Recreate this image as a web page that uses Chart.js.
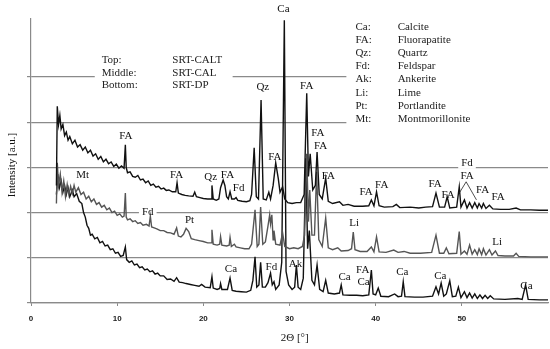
<!DOCTYPE html>
<html>
<head>
<meta charset="utf-8">
<script src="https://cdn.jsdelivr.net/npm/chart.js@4/dist/chart.umd.min.js"></script>
<style>
  html, body { margin: 0; padding: 0; background: #fff; }
  #wrap { width: 550px; height: 349px; }
</style>
</head>
<body>
<div id="wrap"><canvas id="xrdChart"></canvas></div>
<script>
// 2theta / intensity pairs (offset stacked patterns)
const caltPattern = [
  [2.95, 2.6], [3.05, 4.35], [3.2, 3.95], [3.35, 4.15], [3.5, 3.85], [3.7, 3.95], [3.9, 3.7], [4.1, 3.78],
  [4.3, 3.6], [4.5, 3.68], [4.8, 3.52], [5.1, 3.6], [5.4, 3.45], [5.7, 3.5], [6.0, 3.38], [6.3, 3.45],
  [6.6, 3.32], [6.9, 3.38], [7.2, 3.25], [7.5, 3.3], [7.8, 3.18], [8.1, 3.24], [8.4, 3.12], [8.7, 3.18],
  [9.0, 3.08], [9.3, 3.12], [9.6, 3.02], [9.9, 3.07], [10.2, 2.98], [10.5, 3.03], [10.8, 2.98], [10.95, 3.5],
  [11.05, 3.0], [11.2, 2.88], [11.5, 2.9], [11.8, 2.8], [12.1, 2.78], [12.4, 2.82], [12.7, 2.72], [13.0, 2.74],
  [13.3, 2.66], [13.6, 2.7], [13.9, 2.6], [14.2, 2.63], [14.5, 2.56], [14.8, 2.58], [15.1, 2.52], [15.4, 2.54],
  [15.7, 2.49], [16.0, 2.5], [16.4, 2.46], [16.8, 2.46], [16.95, 2.66], [17.1, 2.43], [17.5, 2.4], [17.9, 2.38],
  [18.3, 2.37], [18.8, 2.36], [19.0, 2.45], [19.2, 2.35], [19.6, 2.33], [20.0, 2.31], [20.5, 2.3], [20.9, 2.3],
  [21.0, 2.6], [21.15, 2.3], [21.5, 2.27], [21.8, 2.3], [22.0, 2.55], [22.3, 2.72], [22.5, 2.6], [22.7, 2.35],
  [22.9, 2.3], [23.1, 2.46], [23.3, 2.3], [23.6, 2.3], [23.8, 2.33], [24.0, 2.27], [24.5, 2.25], [25.0, 2.24],
  [25.4, 2.26], [25.6, 2.4], [25.9, 3.43], [26.15, 2.35], [26.4, 2.3], [26.7, 4.49], [26.95, 2.3], [27.3, 2.28],
  [27.6, 2.45], [27.8, 2.3], [28.1, 2.6], [28.4, 3.1], [28.7, 2.75], [28.9, 2.45], [29.2, 2.57], [29.45, 2.3],
  [29.8, 2.22], [30.3, 2.2], [30.8, 2.22], [31.3, 2.22], [31.7, 2.4], [32.0, 4.64], [32.2, 2.8], [32.4, 3.3],
  [32.7, 2.5], [33.0, 2.6], [33.2, 3.34], [33.45, 2.4], [33.8, 2.3], [34.2, 2.76], [34.5, 2.25], [35.0, 2.2],
  [35.8, 2.24], [36.2, 2.16], [36.8, 2.18], [37.5, 2.14], [38.5, 2.14], [39.2, 2.15], [39.5, 2.28], [39.8, 2.15],
  [40.1, 2.46], [40.4, 2.15], [41.0, 2.12], [42.0, 2.13], [42.4, 2.18], [42.8, 2.11], [44.0, 2.12], [45.0, 2.1],
  [45.8, 2.12], [46.6, 2.13], [47.0, 2.43], [47.4, 2.12], [48.0, 2.12], [48.3, 2.35], [48.6, 2.1], [49.4, 2.12],
  [49.7, 2.57], [49.9, 2.12], [50.3, 2.28], [50.6, 2.1], [50.9, 2.22], [51.2, 2.1], [51.5, 2.22], [51.8, 2.1],
  [52.0, 2.2], [52.3, 2.1], [52.5, 2.2], [52.8, 2.09], [53.2, 2.16], [53.6, 2.08], [54.5, 2.07], [55.5, 2.07],
  [56.3, 2.1], [56.8, 2.06], [58.0, 2.06], [59.0, 2.05], [60.0, 2.05]
];

const calPattern = [
  [2.95, 2.2], [3.05, 3.1], [3.2, 2.6], [3.4, 2.85], [3.6, 2.45], [3.8, 2.7], [4.0, 2.35], [4.2, 2.62],
  [4.4, 2.4], [4.6, 2.58], [4.8, 2.42], [5.0, 2.6], [5.2, 2.45], [5.5, 2.55], [5.8, 2.4], [6.1, 2.45],
  [6.4, 2.3], [6.7, 2.36], [7.0, 2.24], [7.3, 2.3], [7.6, 2.18], [7.9, 2.22], [8.2, 2.12], [8.5, 2.16],
  [8.8, 2.06], [9.1, 2.1], [9.4, 2.0], [9.7, 2.03], [10.0, 1.94], [10.3, 1.97], [10.6, 1.9], [10.8, 1.92],
  [10.95, 2.43], [11.05, 1.9], [11.2, 1.84], [11.5, 1.86], [11.8, 1.8], [12.1, 1.82], [12.4, 1.76], [12.7, 1.78],
  [13.0, 1.72], [13.4, 1.74], [13.7, 1.7], [13.85, 1.92], [14.0, 1.68], [14.3, 1.66], [14.6, 1.64], [15.0, 1.6],
  [15.4, 1.6], [15.8, 1.56], [16.2, 1.55], [16.6, 1.52], [16.9, 1.66], [17.1, 1.48], [17.4, 1.46], [17.7, 1.52],
  [18.0, 1.65], [18.3, 1.58], [18.6, 1.42], [19.0, 1.4], [19.5, 1.38], [20.0, 1.36], [20.5, 1.33], [20.9, 1.33],
  [21.0, 1.62], [21.15, 1.3], [21.6, 1.28], [21.9, 1.3], [22.0, 1.47], [22.15, 1.28], [22.7, 1.26], [23.0, 1.28],
  [23.1, 1.45], [23.25, 1.25], [23.6, 1.3], [23.8, 1.24], [24.3, 1.22], [24.8, 1.2], [25.3, 1.2], [25.6, 1.3],
  [26.0, 2.06], [26.25, 1.25], [26.45, 1.3], [26.65, 2.12], [26.9, 1.3], [27.2, 1.35], [27.5, 1.7], [27.7, 1.95],
  [27.8, 1.75], [27.95, 1.95], [28.1, 1.4], [28.2, 1.6], [28.4, 1.3], [28.9, 1.28], [29.2, 1.55], [29.45, 1.25],
  [30.0, 1.2], [30.5, 1.22], [31.0, 1.2], [31.5, 1.25], [31.75, 1.5], [32.0, 3.3], [32.2, 1.8], [32.35, 2.5],
  [32.6, 1.5], [32.9, 1.5], [33.15, 2.9], [33.4, 1.4], [33.8, 1.25], [34.2, 1.88], [34.5, 1.22], [35.0, 1.18],
  [35.6, 1.22], [36.0, 1.15], [36.8, 1.16], [37.2, 1.2], [37.4, 1.57], [37.6, 1.18], [38.2, 1.14], [39.0, 1.14],
  [39.5, 1.24], [39.8, 1.13], [40.1, 1.46], [40.4, 1.13], [41.2, 1.12], [42.1, 1.17], [42.6, 1.12], [43.3, 1.14],
  [44.0, 1.1], [45.2, 1.1], [46.5, 1.12], [47.0, 1.5], [47.4, 1.1], [47.9, 1.1], [48.2, 1.22], [48.5, 1.09],
  [49.4, 1.1], [49.7, 1.58], [49.9, 1.08], [50.3, 1.15], [50.6, 1.08], [50.9, 1.28], [51.2, 1.08], [51.5, 1.18],
  [51.8, 1.07], [52.0, 1.2], [52.3, 1.07], [52.5, 1.2], [52.8, 1.06], [53.2, 1.18], [53.5, 1.06], [53.9, 1.15],
  [54.2, 1.05], [55.0, 1.04], [56.0, 1.04], [56.3, 1.1], [56.6, 1.03], [58.0, 1.02], [60.0, 1.02]
];

const dpPattern = [
  [2.95, 2.4], [3.1, 2.85], [3.3, 2.55], [3.5, 2.7], [3.7, 2.45], [3.9, 2.6], [4.1, 2.4], [4.3, 2.55],
  [4.5, 2.35], [4.8, 2.5], [5.0, 2.35], [5.3, 2.42], [5.6, 2.25], [5.9, 2.2], [6.1, 2.0], [6.3, 1.9],
  [6.5, 1.72], [6.7, 1.65], [6.9, 1.5], [7.1, 1.52], [7.4, 1.42], [7.7, 1.45], [8.0, 1.33], [8.3, 1.36],
  [8.6, 1.26], [8.9, 1.28], [9.2, 1.18], [9.5, 1.2], [9.8, 1.1], [10.1, 1.12], [10.4, 1.03], [10.7, 1.05],
  [10.95, 1.24], [11.1, 0.96], [11.4, 0.9], [11.7, 0.93], [12.0, 0.84], [12.3, 0.86], [12.6, 0.78], [12.9, 0.8],
  [13.2, 0.73], [13.5, 0.75], [13.8, 0.69], [14.1, 0.71], [14.4, 0.64], [14.7, 0.66], [15.0, 0.6], [15.4, 0.6],
  [15.8, 0.52], [16.2, 0.53], [16.6, 0.48], [16.9, 0.56], [17.2, 0.46], [17.6, 0.45], [18.0, 0.43], [18.5, 0.41],
  [19.0, 0.39], [19.5, 0.37], [19.8, 0.41], [20.2, 0.35], [20.8, 0.34], [21.0, 0.58], [21.15, 0.33], [21.6, 0.3],
  [21.9, 0.32], [22.0, 0.43], [22.15, 0.3], [22.8, 0.3], [23.1, 0.55], [23.35, 0.28], [23.8, 0.26], [24.4, 0.25],
  [25.0, 0.24], [25.5, 0.28], [25.75, 0.5], [26.0, 1.02], [26.2, 0.35], [26.45, 0.4], [26.65, 0.9], [26.85, 0.35],
  [27.2, 0.35], [27.5, 0.45], [27.8, 0.66], [28.0, 0.4], [28.2, 0.47], [28.4, 0.3], [28.8, 0.4], [29.1, 0.9],
  [29.4, 6.25], [29.6, 0.7], [29.9, 0.4], [30.3, 0.3], [30.6, 0.35], [30.8, 0.84], [31.0, 0.35], [31.3, 0.3],
  [31.6, 0.55], [31.9, 3.2], [32.1, 1.2], [32.3, 1.6], [32.6, 0.5], [32.9, 0.4], [33.2, 0.84], [33.5, 0.3],
  [33.9, 0.25], [34.2, 0.5], [34.5, 0.22], [35.2, 0.2], [35.8, 0.22], [36.0, 0.4], [36.2, 0.18], [37.0, 0.17],
  [37.8, 0.17], [38.5, 0.16], [39.2, 0.18], [39.5, 0.73], [39.7, 0.2], [40.0, 0.18], [40.3, 0.33], [40.6, 0.15],
  [41.5, 0.14], [42.2, 0.2], [42.6, 0.14], [43.0, 0.15], [43.2, 0.47], [43.4, 0.14], [44.5, 0.13], [45.5, 0.13],
  [46.6, 0.15], [47.0, 0.36], [47.3, 0.2], [47.6, 0.44], [47.9, 0.15], [48.2, 0.2], [48.6, 0.49], [48.9, 0.14],
  [49.3, 0.15], [49.6, 0.35], [49.9, 0.12], [50.3, 0.25], [50.6, 0.12], [50.9, 0.22], [51.2, 0.11], [51.5, 0.2],
  [51.8, 0.1], [52.1, 0.18], [52.4, 0.1], [52.7, 0.17], [53.0, 0.1], [53.3, 0.16], [53.7, 0.09], [55.0, 0.08],
  [56.5, 0.1], [57.0, 0.08], [57.4, 0.4], [57.7, 0.08], [59.0, 0.07], [60.0, 0.07]
];

// phase labels: text, 2theta, intensity, white background?
const peakLabels = [
  ['Ca', 29.3, 6.5], ['Qz', 26.9, 4.78], ['FA', 32.0, 4.8], ['FA', 33.3, 3.76], ['FA', 33.6, 3.48],
  ['FA', 34.5, 2.81], ['FA', 11.0, 3.69], ['FA', 16.9, 2.83], ['Qz', 20.85, 2.79], ['FA', 22.8, 2.83],
  ['Fd', 24.1, 2.54], ['FA', 28.3, 3.23], ['Mt', 6.0, 2.83], ['Fd', 13.55, 2.01, true], ['Pt', 18.4, 1.84],
  ['Ca', 23.2, 0.75], ['Fd', 27.9, 0.8], ['Ak', 30.7, 0.86], ['Li', 37.5, 1.77], ['FA', 38.9, 2.46],
  ['FA', 40.7, 2.61], ['FA', 46.9, 2.63], ['FA', 48.4, 2.39], ['FA', 50.6, 2.81], ['FA', 52.4, 2.5],
  ['FA', 54.2, 2.35], ['Fd', 50.6, 3.1, true], ['Li', 54.1, 1.35], ['FA', 38.5, 0.73], ['Ca', 38.6, 0.46],
  ['Ca', 43.1, 0.69], ['Ca', 47.5, 0.6], ['Ca', 57.5, 0.38], ['Ca', 36.4, 0.58]
];
// leader lines from the grouped FA label to its two peaks
const leaderLines = [
  [50.5, 2.68, 49.7, 2.43],
  [50.5, 2.68, 51.7, 2.28]
];

const phaseCodes = ['Ca:', 'FA:', 'Qz:', 'Fd:', 'Ak:', 'Li:', 'Pt:', 'Mt:'];
const phaseNames = ['Calcite', 'Fluorapatite', 'Quartz', 'Feldspar', 'Ankerite', 'Lime', 'Portlandite', 'Montmorillonite'];
const samplePos = ['Top:', 'Middle:', 'Bottom:'];
const sampleNames = ['SRT-CALT', 'SRT-CAL', 'SRT-DP'];

const xTicks = [0, 10, 20, 30, 40, 50];

const serif = "'Liberation Serif', 'Times New Roman', serif";
const gridGray = '#8a8a8a';

function toPoints(pairs) {
  return pairs.map(p => ({ x: p[0], y: p[1] }));
}

const annotate = {
  id: 'annotate',
  beforeDatasetsDraw(chart) {
    const { ctx, chartArea } = chart;
    const x = chart.scales.x, y = chart.scales.y;
    ctx.save();
    ctx.fillStyle = '#fff';
    // text boxes hide the gridlines behind them
    let x0 = x.getPixelForValue(7.4), x1 = x.getPixelForValue(23.4);
    let y0 = y.getPixelForValue(5.6), y1 = y.getPixelForValue(4.55);
    ctx.fillRect(x0, y0, x1 - x0, y1 - y0);
    x0 = x.getPixelForValue(36.6);
    y0 = chartArea.top; y1 = y.getPixelForValue(3.85);
    ctx.fillRect(x0, y0, chartArea.right - x0 + 2, y1 - y0);

    ctx.font = '11px ' + serif;
    peakLabels.forEach(l => {
      if (!l[3]) return;
      const w = ctx.measureText(l[0]).width + 6;
      ctx.fillRect(x.getPixelForValue(l[1]) - w / 2, y.getPixelForValue(l[2]) - 6, w, 12);
    });
    ctx.restore();
  },
  afterDatasetsDraw(chart) {
    const { ctx, chartArea } = chart;
    const x = chart.scales.x, y = chart.scales.y;
    ctx.save();
    ctx.fillStyle = '#111';
    ctx.font = '11px ' + serif;
    ctx.textAlign = 'center';
    ctx.textBaseline = 'middle';
    peakLabels.forEach(l => {
      ctx.fillText(l[0], x.getPixelForValue(l[1]), y.getPixelForValue(l[2]));
    });

    ctx.strokeStyle = '#222';
    ctx.lineWidth = 0.8;
    leaderLines.forEach(s => {
      ctx.beginPath();
      ctx.moveTo(x.getPixelForValue(s[0]), y.getPixelForValue(s[1]));
      ctx.lineTo(x.getPixelForValue(s[2]), y.getPixelForValue(s[3]));
      ctx.stroke();
    });

    // phase key, top right
    ctx.textAlign = 'left';
    ctx.fillStyle = '#222';
    const keyTop = y.getPixelForValue(6.11);
    for (let i = 0; i < phaseCodes.length; i++) {
      ctx.fillText(phaseCodes[i], x.getPixelForValue(37.65), keyTop + i * 13.2);
      ctx.fillText(phaseNames[i], x.getPixelForValue(42.55), keyTop + i * 13.2);
    }
    // sample key
    const sampleTop = y.getPixelForValue(5.36);
    for (let i = 0; i < samplePos.length; i++) {
      ctx.fillText(samplePos[i], x.getPixelForValue(8.2), sampleTop + i * 12.4);
      ctx.fillText(sampleNames[i], x.getPixelForValue(16.4), sampleTop + i * 12.4);
    }

    // axis titles
    ctx.fillStyle = '#111';
    ctx.textAlign = 'center';
    ctx.fillText('2\u0398 [\u00B0]', x.getPixelForValue(30.6), chartArea.bottom + 35);
    ctx.translate(12, (chartArea.top + chartArea.bottom) / 2 + 4);
    ctx.rotate(-Math.PI / 2);
    ctx.fillText('Intensity [a.u.]', 0, 0);
    ctx.restore();
  }
};

new Chart(document.getElementById('xrdChart'), {
  type: 'scatter',
  data: {
    datasets: [
      { label: 'SRT-CALT', data: toPoints(caltPattern), borderColor: '#111111' },
      { label: 'SRT-CAL', data: toPoints(calPattern), borderColor: '#555555' },
      { label: 'SRT-DP', data: toPoints(dpPattern), borderColor: '#111111' }
    ].map(d => Object.assign(d, { showLine: true, pointRadius: 0, borderWidth: 1.4, tension: 0, fill: false }))
  },
  options: {
    responsive: true,
    maintainAspectRatio: false,
    animation: false,
    layout: { padding: { top: 19, right: 2, left: 0, bottom: 0 } },
    plugins: { legend: { display: false }, tooltip: { enabled: false } },
    scales: {
      x: {
        type: 'linear',
        min: 0,
        max: 60,
        afterFit: s => { s.height = 46; },
        afterBuildTicks: s => { s.ticks = xTicks.map(v => ({ value: v })); },
        grid: { drawOnChartArea: false, drawTicks: true, tickLength: 3, color: gridGray },
        border: { color: gridGray, width: 1.2 },
        ticks: {
          padding: 8,
          color: '#222',
          font: { family: "'Liberation Sans', Arial, sans-serif", size: 8, weight: 'bold' }
        }
      },
      y: {
        min: 0,
        max: 6.28,
        afterFit: s => { s.width = 31; },
        afterBuildTicks: s => { s.ticks = s.ticks.filter(t => Number.isInteger(t.value)); },
        grid: { color: gridGray, lineWidth: 1.2, tickLength: 4 },
        border: { color: gridGray, width: 1.2 },
        ticks: { display: false, stepSize: 1 }
      }
    }
  },
  plugins: [annotate]
});
</script>
</body>
</html>
